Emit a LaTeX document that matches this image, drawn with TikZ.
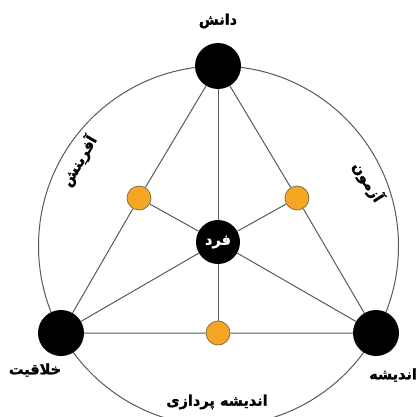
\documentclass[tikz,border=0pt]{standalone}
\usepackage{fontspec}
\newfontfamily\fa[Script=Arabic, BoldFeatures={FakeBold=1.2}]{DejaVu Sans}
\TeXXeTstate=1
\definecolor{edge}{HTML}{5A5A5A}
\definecolor{dotfill}{HTML}{F5A623}
\definecolor{dotline}{HTML}{7A6A48}
\tikzset{
  big/.style={circle, fill=black, minimum size=46pt, inner sep=0pt},
  dot/.style={circle, fill=dotfill, draw=dotline, line width=0.7pt, minimum size=24pt, inner sep=0pt},
  lab/.style={font=\fa\bfseries\fontsize{14.5}{17}\selectfont, inner sep=0pt},
  conn/.style={draw=edge, line width=1pt}
}
\begin{document}
\begin{tikzpicture}[x=1pt,y=-1pt]
\clip (0,0) rectangle (416,417);
\fill[white] (0,0) rectangle (416,417);
\draw[edge, line width=1pt] (218.5,246) circle (180pt);
\node[big] (top) at (218,66) {};
\node[big] (bl) at (61,333) {};
\node[big] (br) at (376,333) {};
\node[big, minimum size=44pt] (c) at (218,242) {\textcolor{white}{\fa\bfseries\fontsize{14.5}{17}\selectfont\beginR فرد\endR}};
\node[dot] (ml) at (139,198) {};
\node[dot] (mr) at (297,198) {};
\node[dot] (mb) at (218,333) {};
\path[conn] (top) -- (ml) (ml) -- (bl) (bl) -- (mb) (mb) -- (br) (br) -- (mr) (mr) -- (top);
\path[conn] (top) -- (c) (c) -- (mb);
\path[conn] (bl) -- (c) (c) -- (mr);
\path[conn] (br) -- (c) (c) -- (ml);
\node[lab] (t1) at (218,21) {\beginR دانش\endR};
\node[lab] (t2) at (35,370) {\beginR خلاقیت\endR};
\node[lab] (t3) at (393,375) {\beginR اندیشه\endR};
\node[lab] (t4) at (217,402) {\beginR اندیشه پردازی\endR};
\node[lab, rotate=60] (t5) at (79,161) {\beginR آفرینش\endR};
\node[lab, rotate=-58] (t6) at (368,182) {\beginR آزمون\endR};
\end{tikzpicture}
\end{document}
